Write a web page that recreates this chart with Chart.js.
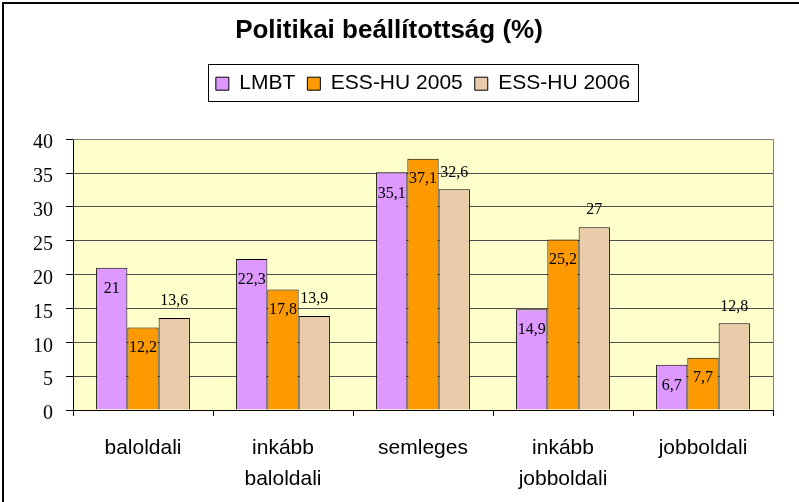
<!DOCTYPE html>
<html>
<head>
<meta charset="utf-8">
<script src="https://cdn.jsdelivr.net/npm/chart.js@4.4.0/dist/chart.umd.min.js"></script>
<style>
html,body{margin:0;padding:0;background:#fff;}
#wrap{width:799px;height:502px;position:relative;}
</style>
</head>
<body>
<div id="wrap"><canvas id="c"></canvas></div>
<script>
// ---- data ----
const titleText = 'Politikai beállítottság (%)';
const categories = ['baloldali', ['inkább', 'baloldali'], 'semleges', ['inkább', 'jobboldali'], 'jobboldali'];
const seriesNames = ['LMBT', 'ESS-HU 2005', 'ESS-HU 2006'];
const lmbt = [21, 22.3, 35.1, 14.9, 6.7];
const ess2005 = [12.2, 17.8, 37.1, 25.2, 7.7];
const ess2006 = [13.6, 13.9, 32.6, 27, 12.8];
const yTicks = [0, 5, 10, 15, 20, 25, 30, 35, 40];

// ---- style ----
const colors = ['#DD99FF', '#FF9900', '#EACBAA'];
const labelOffsets = [21, 20, -17];
const PAD = {left: 5, right: 26, top: 5, bottom: 5};

const decor = {
  id: 'decor',
  beforeDraw(chart) {
    const ctx = chart.ctx, a = chart.chartArea;
    ctx.save();
    ctx.fillStyle = '#fff';
    ctx.fillRect(0, 0, chart.width, chart.height);
    ctx.fillStyle = '#FFFFCC';
    ctx.fillRect(a.left, a.top, a.right - a.left, a.bottom - a.top);
    ctx.restore();
  },
  beforeDatasetsDraw(chart) {
    const ctx = chart.ctx, a = chart.chartArea;
    ctx.save();
    ctx.strokeStyle = '#808080';
    ctx.lineWidth = 1;
    ctx.beginPath();
    ctx.moveTo(Math.round(a.left) , Math.round(a.top) + 0.5);
    ctx.lineTo(Math.round(a.right) + 0.5, Math.round(a.top) + 0.5);
    ctx.lineTo(Math.round(a.right) + 0.5, Math.round(a.bottom));
    ctx.stroke();
    ctx.restore();
  },
  afterDatasetsDraw(chart) {
    const ctx = chart.ctx;
    ctx.save();
    ctx.font = '16px "Liberation Serif", "Times New Roman", serif';
    ctx.fillStyle = '#000';
    ctx.textAlign = 'center';
    ctx.textBaseline = 'middle';
    chart.data.datasets.forEach((ds, di) => {
      const meta = chart.getDatasetMeta(di);
      meta.data.forEach((el, i) => {
        const txt = String(ds.data[i]).replace('.', ',');
        ctx.fillText(txt, el.x, el.y + labelOffsets[di]);
      });
    });
    ctx.restore();
  },
  afterDraw(chart) {
    const ctx = chart.ctx;
    ctx.save();
    // legend frame
    const lg = chart.legend;
    if (lg && lg.legendHitBoxes && lg.legendHitBoxes.length) {
      const hb = lg.legendHitBoxes;
      const l = Math.min(...hb.map(h => h.left));
      const r = Math.max(...hb.map(h => h.left + h.width));
      const cy = hb[0].top + hb[0].height / 2;
      ctx.strokeStyle = '#000';
      ctx.lineWidth = 1;
      ctx.strokeRect(Math.round(l - 8) + 0.5, Math.round(cy - 20) + 0.5, Math.round(r - l + 16), 37);
    }
    // outer frame (left and top edges visible)
    ctx.strokeStyle = '#000';
    ctx.lineWidth = 2;
    ctx.beginPath();
    ctx.moveTo(3, chart.height);
    ctx.lineTo(3, 3);
    ctx.lineTo(chart.width, 3);
    ctx.stroke();
    ctx.restore();
  }
};

const seriesData = [lmbt, ess2005, ess2006];

new Chart(document.getElementById('c'), {
  type: 'bar',
  data: {
    labels: categories,
    datasets: seriesNames.map((name, i) => ({
      label: name,
      data: seriesData[i],
      backgroundColor: colors[i],
      borderColor: '#000',
      borderWidth: 1,
      borderSkipped: 'bottom',
      categoryPercentage: 0.67,
      barPercentage: 1.0
    }))
  },
  options: {
    responsive: true,
    maintainAspectRatio: false,
    animation: false,
    events: [],
    layout: {padding: PAD},
    plugins: {
      title: {
        display: true,
        text: titleText,
        color: '#000',
        font: {family: '"Liberation Sans", Arial, sans-serif', size: 26, weight: 'bold', lineHeight: 1.2},
        padding: {top: 10, bottom: 15}
      },
      subtitle: {
        display: true,
        text: '',
        weight: 500,
        padding: 0,
        font: {size: 35, lineHeight: 1}
      },
      legend: {
        display: true,
        position: 'top',
        fullSize: false,
        labels: {
          color: '#000',
          font: {family: '"Liberation Sans", Arial, sans-serif', size: 21},
          boxWidth: 13,
          boxHeight: 13,
          padding: 12
        }
      },
      tooltip: {enabled: false}
    },
    scales: {
      x: {
        grid: {offset: true, drawOnChartArea: false, drawTicks: true, tickLength: 6, color: '#000'},
        border: {color: '#000', width: 1},
        ticks: {
          color: '#000',
          font: {family: '"Liberation Sans", Arial, sans-serif', size: 21, lineHeight: 1.5},
          padding: 16,
          maxRotation: 0,
          autoSkip: false
        },
        afterFit(s) { s.height = 502 - PAD.bottom - 410; }
      },
      y: {
        min: 0,
        max: 40,
        afterBuildTicks(s) { s.ticks = yTicks.map(v => ({value: v})); },
        grid: {color: '#505050', tickColor: '#000', tickLength: 7, drawTicks: true},
        border: {color: '#000', width: 1},
        ticks: {
          color: '#000',
          font: {family: '"Liberation Serif", "Times New Roman", serif', size: 20},
          padding: 13,
          labelOffset: 4
        },
        afterFit(s) { s.width = 73 - PAD.left; }
      }
    }
  },
  plugins: [decor]
});
</script>
</body>
</html>
